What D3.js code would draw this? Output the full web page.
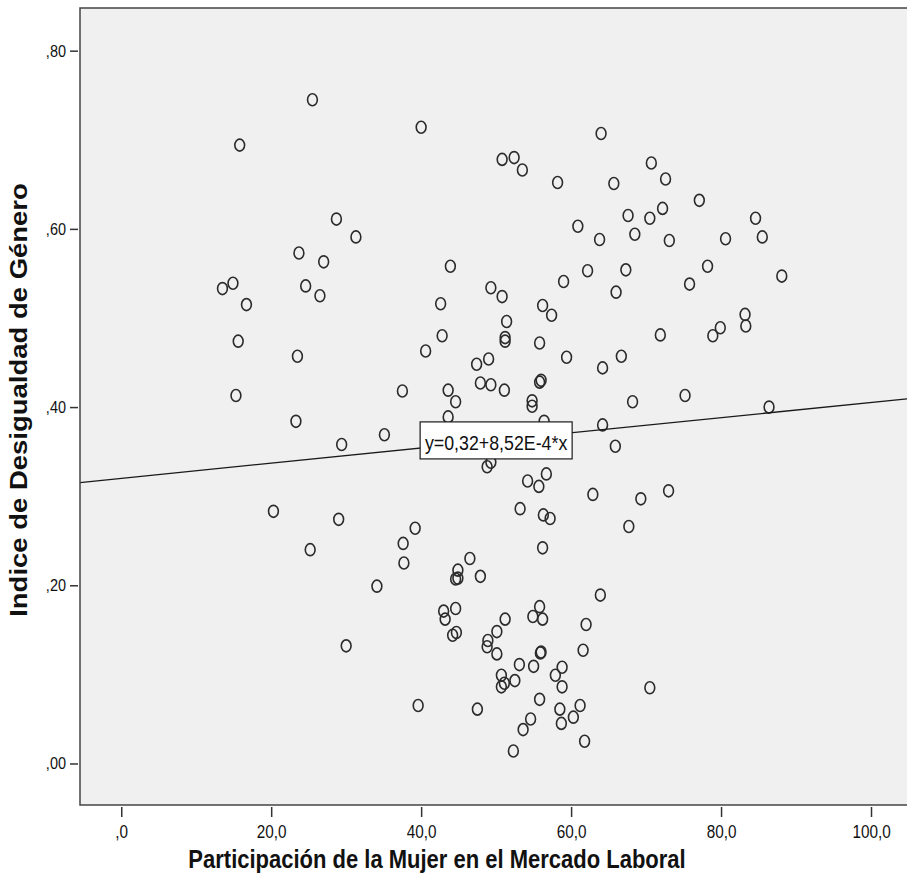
<!DOCTYPE html>
<html>
<head>
<meta charset="utf-8">
<script src="https://cdn.jsdelivr.net/npm/d3@7"></script>
<style>
  body { margin: 0; background: #fff; }
  svg { display: block; font-family: "Liberation Sans", Arial, sans-serif; }
</style>
</head>
<body>
<svg id="chart" width="907" height="889"></svg>
<script>
// Participación de la Mujer en el Mercado Laboral (x) / Indice de Desigualdad de Género (y)
const participacion = [
  25.5, 15.8, 28.7, 31.3, 23.7, 27.0, 14.9, 13.5, 24.6, 26.5, 16.7, 15.6, 23.5,
  15.3, 37.5, 23.3, 35.1, 29.4, 20.3, 29.0, 25.2, 37.6, 37.7, 34.1, 30.0,
  40.0, 64.0, 50.8, 52.4, 53.5, 58.2, 60.9, 63.8, 43.9, 62.2, 59.0, 49.3, 50.8,
  42.6, 56.2, 57.4, 51.4,
  42.8, 51.2, 51.2, 55.8, 40.6, 59.4, 64.2, 49.0, 47.4, 56.0, 55.8, 47.9, 49.3,
  51.1, 43.6, 44.6, 54.8, 54.8, 43.6, 56.4, 64.2, 48.8, 49.3, 56.7, 54.2, 55.7,
  62.9, 53.2, 56.3, 57.2, 39.2, 56.2, 46.5,
  44.9, 44.6, 44.9, 47.9, 63.9, 43.0, 43.2, 44.6, 44.2, 44.7, 55.8, 54.9, 56.2,
  51.2, 50.1, 62.0, 48.9, 48.8, 50.1, 61.6, 55.9, 56.0, 53.1, 55.0, 58.8, 57.9,
  50.7, 51.1, 50.7, 52.5, 58.8, 55.8, 39.6, 47.5, 61.2, 58.5, 60.3, 58.7, 54.6,
  53.6, 61.8, 52.3,
  70.7, 72.6, 65.7, 77.1, 72.2, 67.6, 70.5, 84.6, 68.5, 73.1, 80.6, 85.5, 78.2,
  67.3, 88.1, 75.8, 66.0, 83.2, 83.3, 79.9, 71.9, 78.9, 66.7, 75.2, 68.2, 86.4,
  65.9, 73.0, 69.3, 67.7, 70.5
];
const desigualdad = [
  0.745, 0.694, 0.611, 0.591, 0.573, 0.563, 0.539, 0.533, 0.536, 0.525, 0.515, 0.474, 0.457,
  0.413, 0.418, 0.384, 0.369, 0.358, 0.283, 0.274, 0.240, 0.247, 0.225, 0.199, 0.132,
  0.714, 0.707, 0.678, 0.680, 0.666, 0.652, 0.603, 0.588, 0.558, 0.553, 0.541, 0.534, 0.524,
  0.516, 0.514, 0.503, 0.496,
  0.480, 0.478, 0.474, 0.472, 0.463, 0.456, 0.444, 0.454, 0.448, 0.430, 0.428, 0.427, 0.425,
  0.419, 0.419, 0.406, 0.407, 0.401, 0.389, 0.384, 0.380, 0.333, 0.338, 0.325, 0.317, 0.311,
  0.302, 0.286, 0.279, 0.275, 0.264, 0.242, 0.230,
  0.217, 0.207, 0.208, 0.210, 0.189, 0.171, 0.162, 0.174, 0.144, 0.147, 0.176, 0.165, 0.162,
  0.162, 0.148, 0.156, 0.138, 0.131, 0.123, 0.127, 0.124, 0.125, 0.111, 0.109, 0.108, 0.099,
  0.099, 0.090, 0.086, 0.093, 0.086, 0.072, 0.065, 0.061, 0.065, 0.061, 0.052, 0.045, 0.050,
  0.038, 0.025, 0.014,
  0.674, 0.656, 0.651, 0.632, 0.623, 0.615, 0.612, 0.612, 0.594, 0.587, 0.589, 0.591, 0.558,
  0.554, 0.547, 0.538, 0.529, 0.504, 0.491, 0.489, 0.481, 0.480, 0.457, 0.413, 0.406, 0.400,
  0.356, 0.306, 0.297, 0.266, 0.085
];

const xTicks = [0, 20, 40, 60, 80, 100];
const xTickLabels = [",0", "20,0", "40,0", "60,0", "80,0", "100,0"];
const yTicks = [0, 0.2, 0.4, 0.6, 0.8];
const yTickLabels = [",00", ",20", ",40", ",60", ",80"];

const intercept = 0.32, slope = 8.52e-4;
const fitLabel = "y=0,32+8,52E-4*x";
const xTitle = "Participación de la Mujer en el Mercado Laboral";
const yTitle = "Indice de Desigualdad de Género";

const svg = d3.select("#chart");
const stretch = 1.18; // picture is slightly taller than wide

const x = d3.scaleLinear().domain([-5.5, 104.8]).range([80, 907]);
const y = d3.scaleLinear().domain([-0.0466, 0.8479]).range([805, 8]);

// plot background
svg.append("rect")
    .attr("x", x.range()[0]).attr("y", y.range()[1])
    .attr("width", 840).attr("height", y.range()[0] - y.range()[1])
    .attr("fill", "#f0f0f0");

// points
svg.append("g").selectAll("ellipse")
  .data(participacion.map((d, i) => [d, desigualdad[i]]))
  .enter().append("ellipse")
    .attr("cx", d => x(d[0]))
    .attr("cy", d => y(d[1]))
    .attr("rx", 4.9).attr("ry", 6.0)
    .attr("fill", "none")
    .attr("stroke", "#2b2b2b")
    .attr("stroke-width", 1.6);

// fit line
const fit = v => intercept + slope * v;
svg.append("line")
    .attr("x1", x(x.domain()[0])).attr("y1", y(fit(x.domain()[0])))
    .attr("x2", x(x.domain()[1])).attr("y2", y(fit(x.domain()[1])))
    .attr("stroke", "#1a1a1a").attr("stroke-width", 1.3);

// fit label box
const lx = x(50), ly = y(fit(50));
svg.append("rect")
    .attr("x", lx - 76).attr("y", ly - 18.5)
    .attr("width", 152).attr("height", 37)
    .attr("fill", "#fff").attr("stroke", "#1a1a1a").attr("stroke-width", 1.2);
svg.append("text")
    .attr("transform", `translate(${lx},${ly + 9.5}) scale(1,${stretch})`)
    .attr("text-anchor", "middle")
    .attr("font-size", 17.8)
    .attr("fill", "#111")
    .text(fitLabel);

// frame
svg.append("path")
    .attr("d", `M907,${y.range()[1]}H${x.range()[0]}V${y.range()[0]}H907`)
    .attr("fill", "none").attr("stroke", "#444").attr("stroke-width", 1.5);

// x axis
const gx = svg.append("g")
    .attr("transform", "translate(0,807)")
    .call(d3.axisBottom(x).tickValues(xTicks)
      .tickFormat((d, i) => xTickLabels[i]).tickSize(10).tickSizeOuter(0));
gx.select(".domain").remove();
gx.selectAll(".tick line").attr("stroke", "#333").attr("stroke-width", 1.5);
gx.selectAll(".tick text")
    .attr("y", 31 / stretch).attr("dy", 0)
    .attr("transform", `scale(1,${stretch})`)
    .attr("font-size", 15.3).attr("fill", "#111")
    .attr("font-family", "'Liberation Sans', Arial, sans-serif");

// y axis
const gy = svg.append("g")
    .attr("transform", "translate(78,0)")
    .call(d3.axisLeft(y).tickValues(yTicks)
      .tickFormat((d, i) => yTickLabels[i]).tickSize(8).tickSizeOuter(0));
gy.select(".domain").remove();
gy.selectAll(".tick line").attr("stroke", "#333").attr("stroke-width", 1.5);
gy.selectAll(".tick text")
    .attr("x", -12)
    .attr("transform", `scale(1,${stretch})`)
    .attr("font-size", 14.5).attr("fill", "#111")
    .attr("font-family", "'Liberation Sans', Arial, sans-serif");

// axis titles
svg.append("text")
    .attr("transform", `translate(437,868) scale(1,${stretch})`)
    .attr("text-anchor", "middle")
    .attr("font-size", 22).attr("font-weight", "bold").attr("fill", "#111")
    .text(xTitle);

svg.append("text")
    .attr("transform", `translate(27,400) scale(1,${stretch}) rotate(-90)`)
    .attr("text-anchor", "middle")
    .attr("font-size", 23.3).attr("font-weight", "bold").attr("fill", "#111")
    .text(yTitle);
</script>
</body>
</html>
